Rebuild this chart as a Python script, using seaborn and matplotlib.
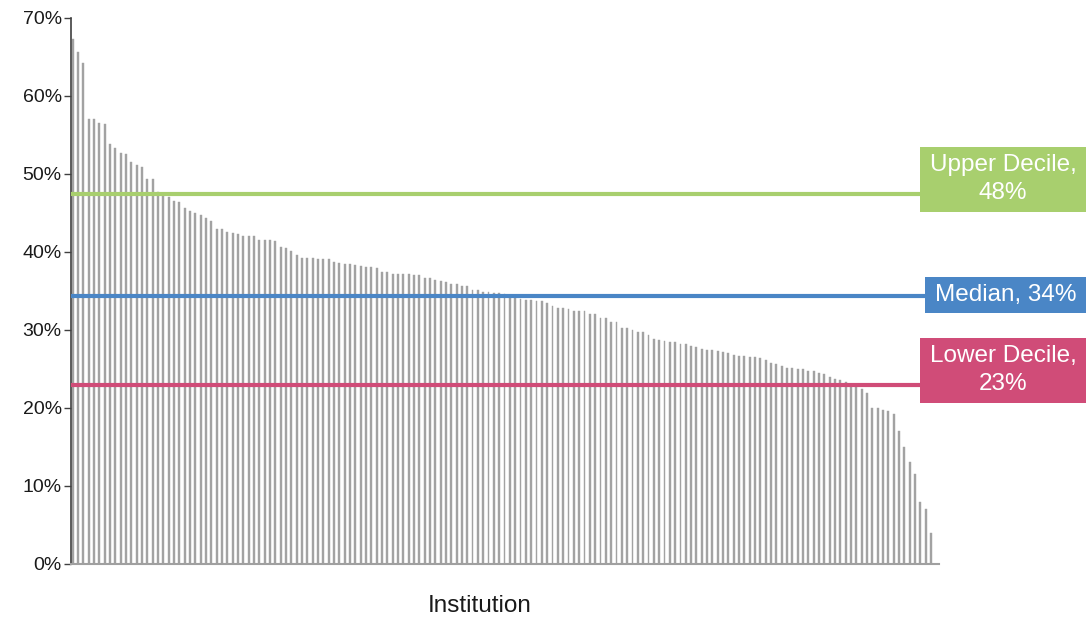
import matplotlib

matplotlib.use("Agg")

import matplotlib.pyplot as plt
import matplotlib.transforms as mtransforms
import pandas as pd
import seaborn as sns
from matplotlib.patches import Rectangle

# completion rate per institution (%), sorted high -> low
RATES = [
    67.3, 65.6, 64.2, 57.1, 57.1, 56.6, 56.4, 53.9, 53.3, 52.7,
    52.6, 51.6, 51.2, 50.9, 49.4, 49.4, 47.7, 47.6, 47.1, 46.5,
    46.4, 45.6, 45.3, 45.0, 44.8, 44.4, 44.0, 42.9, 42.9, 42.6,
    42.4, 42.3, 42.1, 42.1, 42.1, 41.6, 41.6, 41.5, 41.4, 40.7,
    40.5, 40.1, 39.6, 39.2, 39.2, 39.2, 39.1, 39.1, 39.1, 38.7,
    38.6, 38.5, 38.4, 38.3, 38.2, 38.1, 38.1, 37.9, 37.5, 37.5,
    37.2, 37.2, 37.2, 37.2, 37.1, 37.1, 36.7, 36.7, 36.4, 36.3,
    36.2, 35.9, 35.9, 35.7, 35.6, 35.1, 35.1, 34.9, 34.9, 34.8,
    34.7, 34.6, 34.4, 34.3, 34.0, 33.9, 33.8, 33.7, 33.7, 33.5,
    33.1, 32.8, 32.8, 32.7, 32.5, 32.4, 32.4, 32.1, 32.1, 31.6,
    31.5, 31.0, 31.0, 30.3, 30.2, 30.0, 29.8, 29.7, 29.3, 28.9,
    28.7, 28.6, 28.5, 28.4, 28.2, 28.2, 28.0, 27.8, 27.6, 27.5,
    27.5, 27.3, 27.2, 27.0, 26.8, 26.7, 26.7, 26.6, 26.5, 26.4,
    26.1, 25.8, 25.7, 25.4, 25.1, 25.1, 25.0, 25.0, 24.8, 24.7,
    24.5, 24.3, 24.0, 23.7, 23.6, 23.3, 23.1, 22.9, 22.5, 21.9,
    20.0, 20.0, 19.8, 19.6, 19.2, 17.0, 15.0, 13.1, 11.5, 7.9,
    7.1, 4.0,
]

REF_VALUES = [47.4, 34.4, 22.9]
REF_LABELS = ["Upper Decile,\n48%", "Median, 34%", "Lower Decile,\n23%"]
REF_COLORS = ["#A8CF6E", "#4A86C6", "#D04C78"]

Y_TICKS = [0, 10, 20, 30, 40, 50, 60, 70]

W, H, DPI = 1088, 621, 100


def main() -> None:
    sns.set_theme(style="white")
    plt.rcParams["font.family"] = ["Liberation Sans", "DejaVu Sans"]

    data = pd.DataFrame({"inst": range(len(RATES)), "rate": RATES})

    fig = plt.figure(figsize=(W / DPI, H / DPI), dpi=DPI)
    ax = fig.add_axes([70.5 / W, 57 / H, 868 / W, 546 / H])

    sns.barplot(data=data, x="inst", y="rate", color="#A2A2A2", saturation=1,
                width=0.36, edgecolor="#A2A2A2", linewidth=0.3, ax=ax, zorder=1)

    ax.set_xlim(-0.41, len(RATES) + 0.4)
    ax.set_ylim(0, 70)
    ax.set_yticks(Y_TICKS)
    ax.set_yticklabels([f"{t}%" for t in Y_TICKS], fontsize=14, color="#1a1a1a")
    ax.set_xticks([])
    ax.set_xlabel("")
    ax.set_ylabel("")
    ax.tick_params(axis="y", direction="out", length=4.8, width=1, color="#404040",
                   pad=1.5, left=True)

    for side in ("top", "right"):
        ax.spines[side].set_visible(False)
    ax.spines["left"].set_color("#404040")
    ax.spines["left"].set_linewidth(1.2)
    ax.spines["bottom"].set_color("#A0A0A0")
    ax.spines["bottom"].set_linewidth(1.5)

    trans = mtransforms.blended_transform_factory(ax.transAxes, ax.transData)
    box_left = [920, 925, 920]
    for value, label, color, left in zip(REF_VALUES, REF_LABELS, REF_COLORS, box_left):
        ax.plot([0, 0.99], [value, value], color=color, linewidth=3,
                transform=trans, clip_on=False, zorder=3, solid_capstyle="butt")
        y_px = ax.transData.transform((0, value))[1]
        two_lines = "\n" in label
        box_h = 65 if two_lines else 36
        bottom = y_px - 17.5
        rect = Rectangle((left / W, bottom / H), (1086 - left) / W, box_h / H,
                         transform=fig.transFigure, facecolor=color, edgecolor="none",
                         zorder=5)
        fig.add_artist(rect)
        fig.text((left + 1086) / 2 / W, (bottom + box_h / 2) / H, label,
                 ha="center", va="center", color="white", fontsize=17.5,
                 linespacing=1.35, zorder=6)

    fig.text(480 / W, (H - 606) / H, "Institution", ha="center", va="center",
             fontsize=17.5, color="#1a1a1a")

    fig.savefig("out.png", dpi=DPI)
    plt.close(fig)


if __name__ == "__main__":
    main()
